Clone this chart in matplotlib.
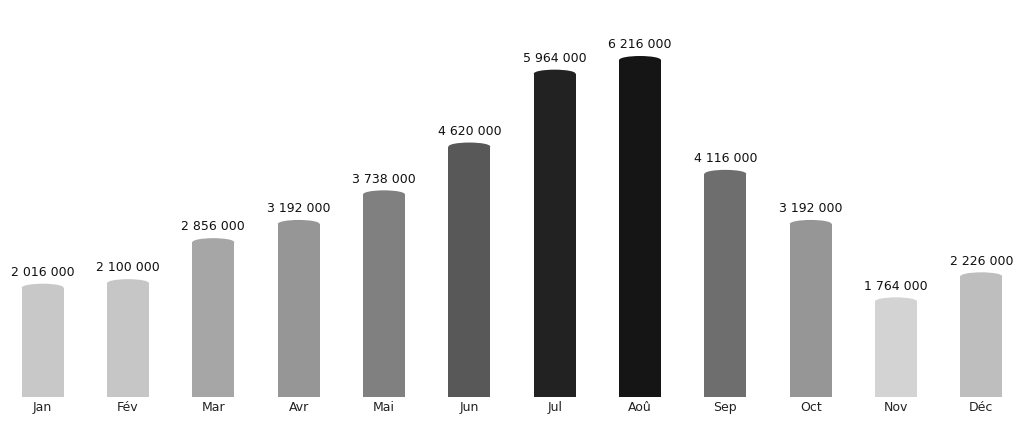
import matplotlib
matplotlib.use("Agg")
import matplotlib.pyplot as plt
from matplotlib.patches import Ellipse

months = ["Jan", "Fév", "Mar", "Avr", "Mai", "Jun", "Jul", "Aoû", "Sep", "Oct", "Nov", "Déc"]
values = [2016000, 2100000, 2856000, 3192000, 3738000, 4620000, 5964000, 6216000, 4116000, 3192000, 1764000, 2226000]
colors = ["#c8c8c8", "#c6c6c6", "#a6a6a6", "#969696", "#808080", "#585858",
          "#222222", "#151515", "#6e6e6e", "#969696", "#d3d3d3", "#bebebe"]

fig = plt.figure(figsize=(10.24, 4.23), dpi=100)
ax = fig.add_axes([0, 26/423, 1, 1 - 26/423])
ymax = 6216000 * 397 / 337
ax.set_xlim(-0.5, 11.5)
ax.set_ylim(0, ymax)
w = 0.49
eh = ymax / 397 * 8
x = list(range(len(months)))
ax.bar(x, values, width=w, color=colors)
for xi, v, c in zip(x, values, colors):
    ax.add_patch(Ellipse((xi, v), w, eh, color=c, lw=0))
    ax.text(xi, v + eh / 2 + ymax * 0.012, f"{v:,}".replace(",", " "),
            ha="center", va="bottom", fontsize=9, color="#111111")
ax.set_xticks(x)
ax.set_xticklabels(months, fontsize=9, color="#222222")
ax.tick_params(length=0, pad=3)
ax.set_yticks([])
for s in ax.spines.values():
    s.set_visible(False)
fig.savefig("out.png", dpi=100)
